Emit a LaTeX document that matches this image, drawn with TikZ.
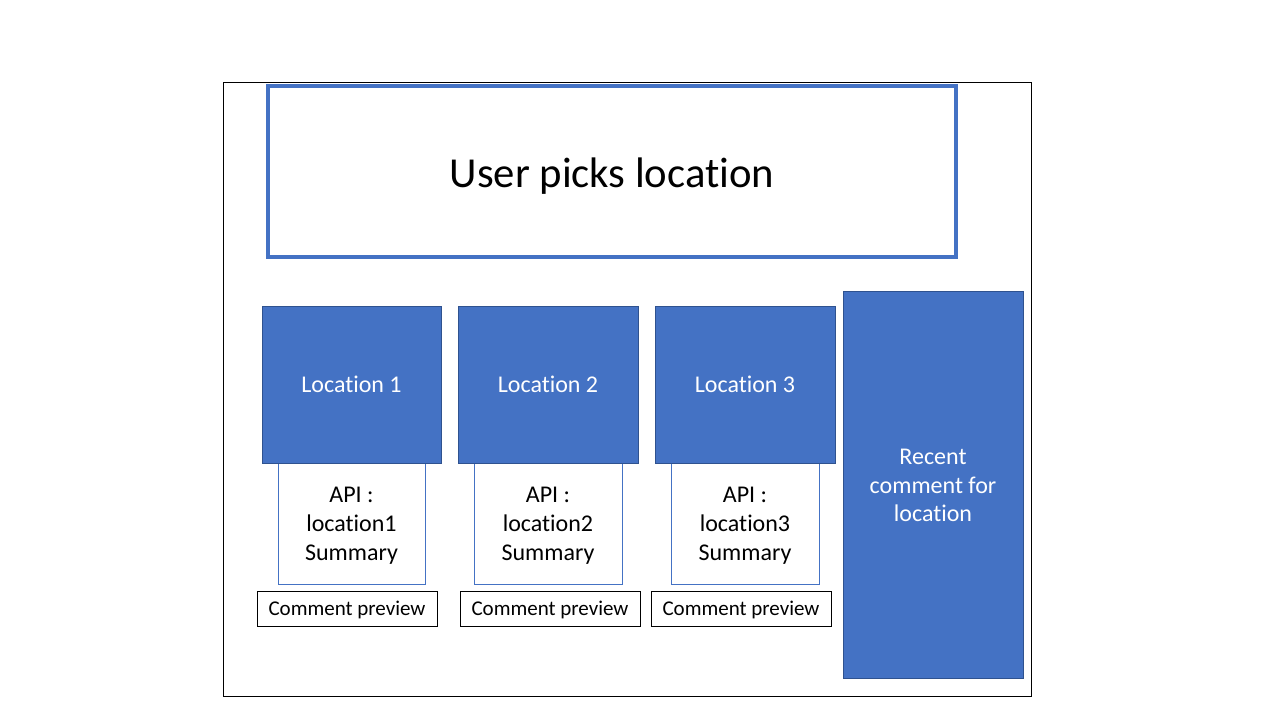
\documentclass[tikz,border=0pt]{standalone}
\usepackage{fontspec}
\setmainfont{Carlito}[Ligatures=NoCommon]
\definecolor{accent}{HTML}{4472C4}
\definecolor{accentdark}{HTML}{2F528F}
\newcommand{\lowertext}[2]{\raisebox{-#1}[\height][\depth]{\begin{tabular}{@{}c@{}}#2\end{tabular}}}
\begin{document}
\begin{tikzpicture}[x=1pt,y=-1pt,
  locbox/.style={draw=accentdark, line width=1pt, fill=accent, text=white, inner sep=0pt, align=center, font=\fontsize{24}{28.8}\selectfont},
  apibox/.style={draw=accent, line width=1pt, fill=white, inner sep=0pt, align=center, font=\fontsize{24}{29}\selectfont},
  combox/.style={draw=black, line width=1pt, fill=white, inner sep=0pt, align=center, font=\fontsize{21}{25}\selectfont},
  titlebox/.style={draw=accent, line width=4pt, inner sep=0pt, align=center, font=\fontsize{42.7}{50}\selectfont},
  frame/.style={draw=black, line width=1pt}
]
\useasboundingbox (0,0) rectangle (1280,720);
\node[frame, minimum width=808pt, minimum height=614pt, inner sep=0pt] (frame) at (627,389) {};
\node[titlebox, minimum width=688pt, minimum height=171pt] (title) at (612,171.5) {\lowertext{6pt}{User picks location}};
% API boxes (drawn before location boxes so that these sit on top)
\node[apibox, minimum width=147pt, minimum height=121pt] (api1) at (351.5,523.5) {\lowertext{2pt}{API :\\location1\\Summary}};
\node[apibox, minimum width=148pt, minimum height=121pt] (api2) at (548,523.5) {\lowertext{2pt}{API :\\location2\\Summary}};
\node[apibox, minimum width=148pt, minimum height=121pt] (api3) at (745,523.5) {\lowertext{2pt}{API :\\location3\\Summary}};
\node[locbox, minimum width=179pt, minimum height=157pt] (loc1) at (351.5,384.5) {Location 1};
\node[locbox, minimum width=180pt, minimum height=157pt] (loc2) at (548,384.5) {Location 2};
\node[locbox, minimum width=180pt, minimum height=157pt] (loc3) at (745,384.5) {Location 3};
\node[locbox, minimum width=180pt, minimum height=387pt, font=\fontsize{24}{28.5}\selectfont] (recent) at (933,484.5) {\lowertext{3pt}{Recent\\comment for\\location}};
\node[combox, minimum width=180pt, minimum height=35pt] (com1) at (347,608.5) {\lowertext{1.5pt}{Comment preview}};
\node[combox, minimum width=180pt, minimum height=35pt] (com2) at (550,608.5) {\lowertext{1.5pt}{Comment preview}};
\node[combox, minimum width=180pt, minimum height=35pt] (com3) at (741,608.5) {\lowertext{1.5pt}{Comment preview}};
\end{tikzpicture}
\end{document}
